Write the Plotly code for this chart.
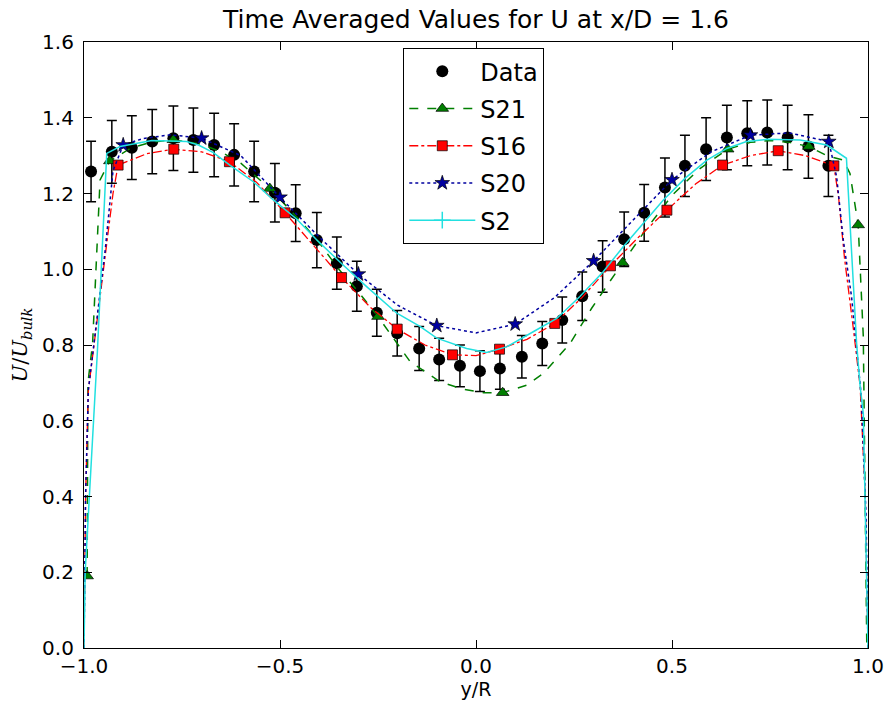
import plotly.graph_objects as go

# ---------------- data ----------------
data_x = [-0.982, -0.929, -0.878, -0.826, -0.772, -0.721, -0.668, -0.617, -0.566, -0.513,
          -0.460, -0.406, -0.355, -0.304, -0.253, -0.201, -0.145, -0.094, -0.041, 0.010,
          0.061, 0.117, 0.169, 0.220, 0.271, 0.323, 0.378, 0.429, 0.482, 0.533,
          0.587, 0.640, 0.692, 0.743, 0.795, 0.848, 0.899]
data_y = [1.258, 1.310, 1.321, 1.337, 1.346, 1.341, 1.328, 1.302, 1.258, 1.202,
          1.148, 1.077, 1.016, 0.955, 0.885, 0.831, 0.791, 0.762, 0.745, 0.731,
          0.738, 0.769, 0.804, 0.866, 0.929, 1.007, 1.079, 1.149, 1.216, 1.273,
          1.317, 1.348, 1.359, 1.361, 1.348, 1.324, 1.273]
data_err = [0.080, 0.083, 0.084, 0.085, 0.085, 0.085, 0.084, 0.082, 0.080, 0.077,
            0.075, 0.073, 0.069, 0.066, 0.062, 0.060, 0.058, 0.056, 0.055, 0.054,
            0.055, 0.056, 0.058, 0.061, 0.064, 0.068, 0.072, 0.075, 0.078, 0.081,
            0.083, 0.085, 0.086, 0.086, 0.085, 0.084, 0.081]

s21_x = [-0.992, -0.990, -0.978, -0.959, -0.934, -0.880, -0.830, -0.772, -0.700, -0.650,
         -0.600, -0.526, -0.450, -0.400, -0.350, -0.300, -0.250, -0.168, -0.092, -0.032,
         0.019, 0.068, 0.129, 0.172, 0.240, 0.295, 0.374, 0.430, 0.500, 0.570,
         0.642, 0.700, 0.750, 0.800, 0.849, 0.895, 0.937, 0.954, 0.975, 0.988, 0.997]
s21_y = [0.190, 0.700, 0.805, 1.236, 1.286, 1.320, 1.335, 1.342, 1.330, 1.310,
         1.280, 1.213, 1.130, 1.070, 1.000, 0.940, 0.875, 0.756, 0.703, 0.683,
         0.674, 0.674, 0.694, 0.725, 0.804, 0.897, 1.017, 1.100, 1.195, 1.265,
         1.317, 1.335, 1.340, 1.335, 1.324, 1.300, 1.288, 1.253, 1.117, 0.822, 0.000]
s21_mx = [-0.992, -0.934, -0.772, -0.526, -0.250, 0.068, 0.374, 0.642, 0.849, 0.975]
s21_my = [0.190, 1.286, 1.342, 1.213, 0.875, 0.674, 1.017, 1.317, 1.324, 1.117]

s16_x = [-1.000, -0.996, -0.989, -0.972, -0.946, -0.926, -0.913, -0.840, -0.771, -0.700,
         -0.629, -0.560, -0.487, -0.420, -0.343, -0.270, -0.201, -0.130, -0.060, 0.000,
         0.060, 0.130, 0.201, 0.270, 0.343, 0.410, 0.487, 0.560, 0.629, 0.700,
         0.771, 0.840, 0.913, 0.925, 0.940, 0.963, 0.980, 0.993, 1.000]
s16_y = [0.000, 0.400, 0.680, 0.822, 1.033, 1.200, 1.275, 1.305, 1.317, 1.310,
         1.284, 1.230, 1.149, 1.070, 0.978, 0.900, 0.842, 0.800, 0.774, 0.772,
         0.789, 0.815, 0.857, 0.925, 1.009, 1.080, 1.156, 1.225, 1.275, 1.300,
         1.313, 1.300, 1.273, 1.190, 1.030, 0.840, 0.690, 0.400, 0.000]
s16_mx = [-0.913, -0.771, -0.629, -0.487, -0.343, -0.201, -0.060,
          0.060, 0.201, 0.343, 0.487, 0.629, 0.771, 0.913]
s16_my = [1.275, 1.317, 1.284, 1.149, 0.978, 0.842, 0.774,
          0.789, 0.857, 1.009, 1.156, 1.275, 1.313, 1.273]

s20_x = [-1.000, -0.996, -0.989, -0.972, -0.946, -0.926, -0.900, -0.850, -0.780, -0.700,
         -0.600, -0.500, -0.400, -0.300, -0.200, -0.100, 0.000, 0.100, 0.200, 0.300,
         0.400, 0.500, 0.600, 0.700, 0.800, 0.900, 0.920, 0.937, 0.958, 0.983, 0.995, 1.000]
s20_y = [0.000, 0.400, 0.680, 0.822, 1.050, 1.260, 1.328, 1.345, 1.355, 1.346,
         1.300, 1.190, 1.085, 0.987, 0.905, 0.851, 0.832, 0.855, 0.925, 1.022,
         1.130, 1.236, 1.310, 1.354, 1.360, 1.337, 1.244, 1.077, 0.928, 0.664, 0.350, 0.000]
s20_mx = [-0.900, -0.700, -0.500, -0.300, -0.100, 0.100, 0.300, 0.500, 0.700, 0.900]
s20_my = [1.328, 1.346, 1.190, 0.987, 0.851, 0.855, 1.022, 1.236, 1.354, 1.337]

s2_x = [-1.000, -0.997, -0.966, -0.942, -0.908, -0.827, -0.738, -0.708, -0.670, -0.628,
        -0.568, -0.517, -0.457, -0.406, -0.339, -0.279, -0.202, -0.143, -0.100, -0.024,
        0.027, 0.078, 0.146, 0.206, 0.265, 0.325, 0.376, 0.427, 0.478, 0.533,
        0.589, 0.640, 0.690, 0.742, 0.827, 0.895, 0.945, 0.971, 0.980, 0.988, 0.997, 1.000]
s2_y = [0.000, 0.200, 0.780, 1.306, 1.324, 1.340, 1.337, 1.328, 1.308, 1.275,
        1.231, 1.183, 1.132, 1.077, 1.011, 0.954, 0.884, 0.849, 0.818, 0.791,
        0.780, 0.795, 0.835, 0.870, 0.928, 0.994, 1.060, 1.121, 1.183, 1.240,
        1.288, 1.319, 1.337, 1.343, 1.341, 1.328, 1.293, 0.804, 0.690, 0.620, 0.180, 0.000]

x_ticks = [-1.0, -0.5, 0.0, 0.5, 1.0]
y_ticks = [0.0, 0.2, 0.4, 0.6, 0.8, 1.0, 1.2, 1.4, 1.6]

GREEN = "#007f00"
RED = "#ff0000"
BLUE = "#0000a0"
CYAN = "#22e0e0"

fig = go.Figure()

# Data with error bars
fig.add_trace(go.Scatter(
    x=data_x, y=data_y, mode="markers", name="Data", legendgroup="a", legendrank=1,
    marker=dict(symbol="circle", size=12, color="black"),
    error_y=dict(type="data", array=data_err, visible=True, color="black", thickness=1.5, width=5),
))

def add_series(name, lx, ly, mx, my, color, dash, width, symbol, msize, rank, legsym=None):
    g = "g" + name
    fig.add_trace(go.Scatter(x=lx, y=ly, mode="lines", showlegend=False, legendgroup=g,
                             line=dict(color=color, dash=dash, width=width)))
    if mx is not None:
        fig.add_trace(go.Scatter(x=mx, y=my, mode="markers", showlegend=False, legendgroup=g,
                                 marker=dict(symbol=symbol, size=msize, color=color,
                                             line=dict(color="black", width=0.7))))
    sym = legsym if legsym else symbol
    mline = dict(color=color, width=1.5) if legsym else dict(color="black", width=0.7)
    fig.add_trace(go.Scatter(x=[None], y=[None], mode="lines+markers", name=name,
                             legendgroup=g, legendrank=rank,
                             line=dict(color=color, dash=dash, width=width),
                             marker=dict(symbol=sym, size=msize, color=color, line=mline)))

add_series("S21", s21_x, s21_y, s21_mx, s21_my, GREEN, "dash", 1.5, "triangle-up", 11, 2)
add_series("S16", s16_x, s16_y, s16_mx, s16_my, RED, "dashdot", 1.3, "square", 10, 3)
add_series("S20", s20_x, s20_y, s20_mx, s20_my, BLUE, "dot", 1.5, "star", 11, 4)
add_series("S2", s2_x, s2_y, None, None, CYAN, "solid", 1.5, "cross-thin", 12, 5, legsym="cross-thin")

axis_common = dict(
    showline=True, linecolor="black", linewidth=1.2, mirror="ticks",
    ticks="inside", ticklen=8, tickwidth=1, tickcolor="black",
    showgrid=False, zeroline=False, automargin=False,
    tickfont=dict(family="DejaVu Sans", size=20, color="black"),
)

fig.update_layout(
    width=886, height=704,
    margin=dict(l=84, r=18, t=42, b=56),
    paper_bgcolor="white", plot_bgcolor="white",
    title=dict(text="Time Averaged Values for U at x/D = 1.6",
               font=dict(family="DejaVu Sans", size=25, color="black"),
               x=0.5, xanchor="center", xref="paper", y=0.973, yanchor="middle"),
    xaxis=dict(range=[-1.0, 1.0], tickvals=x_ticks, tickformat=".1f",
               title=dict(text="y/R", font=dict(family="DejaVu Sans", size=19, color="black"), standoff=4),
               **axis_common),
    yaxis=dict(range=[0.0, 1.6], tickvals=y_ticks, tickformat=".1f", ticklabelstandoff=5,
               title=dict(text="<i>U</i>/<i>U</i><sub><i>bulk</i></sub>",
                          font=dict(family="DejaVu Serif", size=21, color="black"), standoff=8),
               **axis_common),
    legend=dict(x=0.407, xanchor="left", y=0.99, yanchor="top",
                bordercolor="black", borderwidth=1.2, bgcolor="white",
                font=dict(family="DejaVu Sans", size=24, color="black"),
                traceorder="grouped", tracegroupgap=3, itemwidth=66),
    showlegend=True,
)

fig.write_html("out.html")
